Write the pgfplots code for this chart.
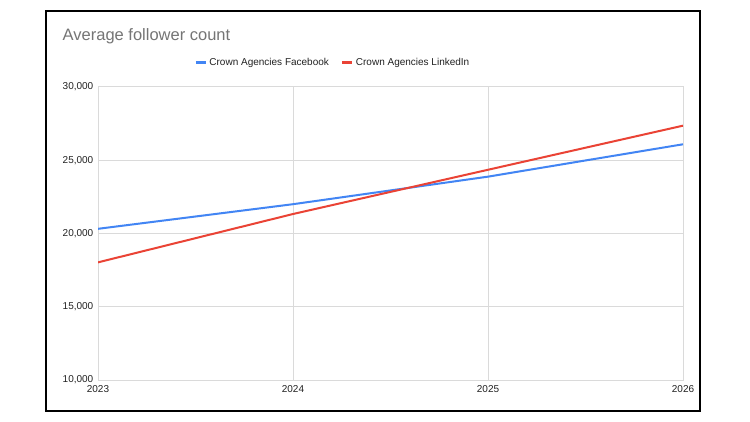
\documentclass[border=0pt]{standalone}
\usepackage{pgfplots}
\pgfplotsset{compat=1.18}
\usepackage{fontspec}
\setmainfont{Liberation Sans}

\definecolor{fbblue}{HTML}{4285F4}
\definecolor{lired}{HTML}{EA4335}
\definecolor{gridgray}{HTML}{DADADA}
\definecolor{titlegray}{HTML}{757575}
\definecolor{ticktext}{HTML}{222222}

\begin{document}
\begin{tikzpicture}
    \path[use as bounding box, fill=white] (0,0) rectangle (750bp,422bp);
    \draw[black, line width=2bp] (45.5bp,11bp) rectangle (700bp,410.5bp);
    \node[anchor=west, text=titlegray, font=\fontsize{16.5bp}{18bp}\selectfont, inner sep=0pt]
        at (62.5bp,386bp) {Average follower count};
    \begin{axis}[
        at={(98bp,42bp)}, anchor=south west,
        scale only axis,
        width=585bp, height=293bp,
        xmin=2023, xmax=2026,
        ymin=10000, ymax=30000,
        xtick={2023,2024,2025,2026},
        ytick={10000,15000,20000,25000,30000},
        xticklabels={2023,2024,2025,2026},
        scaled y ticks=false,
        yticklabel={\pgfmathprintnumber[fixed, precision=0, 1000 sep={,}]{\tick}},
        /pgf/number format/assume math mode=true,
        major tick length=0pt,
        grid=major,
        major grid style={draw=gridgray, line width=1bp},
        axis line style={draw=gridgray, line width=1bp},
        tick label style={font=\fontsize{10bp}{12bp}\selectfont, text=ticktext},
        yticklabel style={xshift=-1.2bp},
        xticklabel style={yshift=-2.2bp},
        legend columns=2,
        legend style={
            draw=none, fill=none,
            at={(0.4015,1.083)}, anchor=center,
            font=\fontsize{10bp}{12bp}\selectfont,
            text=ticktext,
            /tikz/every even column/.append style={column sep=10bp},
        },
        legend image code/.code={
            \draw[#1, line width=3bp] (0bp,0bp) -- (10bp,0bp);
        },
    ]
    \addplot[fbblue, line width=2bp, sharp plot] coordinates {
        (2023,20320) (2024,22000) (2025,23880) (2026,26090)
    };
    \addlegendentry{Crown Agencies Facebook}
    \addplot[lired, line width=2bp, sharp plot] coordinates {
        (2023,18030) (2024,21330) (2025,24350) (2026,27360)
    };
    \addlegendentry{Crown Agencies LinkedIn}
    \end{axis}
\end{tikzpicture}
\end{document}
